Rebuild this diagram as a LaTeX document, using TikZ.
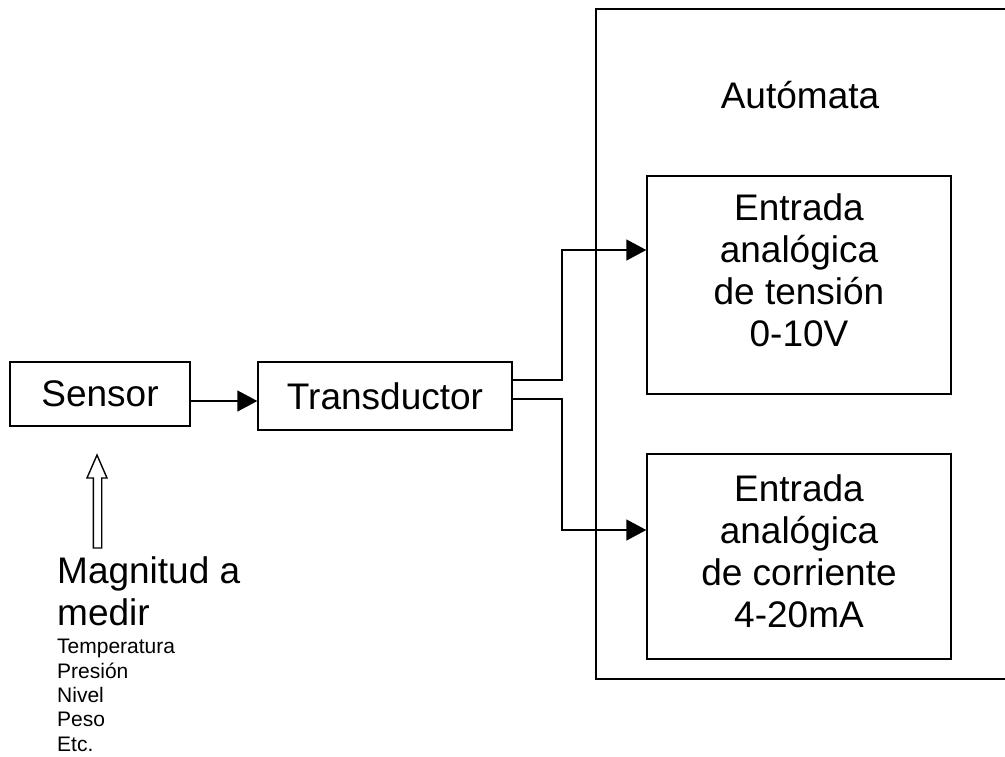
\documentclass[tikz,border=0pt]{standalone}
\usepackage{fontspec}
\setmainfont{Liberation Sans}
\usetikzlibrary{arrows.meta}
\begin{document}
\begin{tikzpicture}[x=1pt,y=-1pt,
  lw/.style={line width=1.4pt},
  box/.style={draw,lw,inner sep=0pt},
  big/.style={font=\fontsize{37}{42}\selectfont},
  small/.style={font=\fontsize{21}{24.3}\selectfont},
  arr/.style={lw,-{Triangle[length=20pt,width=21pt]}}]
\useasboundingbox (0,0) rectangle (1005,756);
% container (open to the right)
\coordinate (autTR) at (1008,9);
\coordinate (autTL) at (596,9);
\coordinate (autBL) at (596,679);
\coordinate (autBR) at (1008,679);
\draw[lw] (autTR) -- (autTL) -- (autBL) -- (autBR);
\node[big,anchor=base] (aut) at (800,108) {Autómata};
% boxes
\node[box,minimum width=180pt,minimum height=64pt,big] (sensor) at (100,394) {Sensor};
\node[box,minimum width=254pt,minimum height=68pt,big] (trans) at (385,396) {Transductor};
\node[box,minimum width=304pt,minimum height=218pt] (in1) at (799,285) {};
\node[box,minimum width=304pt,minimum height=205pt] (in2) at (799,556.5) {};
\node[big,align=center,anchor=base,inner sep=0pt] (t1) at (799,346) {Entrada\\analógica\\de tensión\\0-10V};
\node[big,align=center,anchor=base,inner sep=0pt] (t2) at (799,627) {Entrada\\analógica\\de corriente\\4-20mA};
% connectors
\draw[arr] (sensor.east |- 0,401) -- (trans.west |- 0,401);
\draw[arr] (trans.east |- 0,380) -- (562,380) |- (in1.west |- 0,250);
\draw[arr] (trans.east |- 0,399) -- (562,399) |- (in2.west |- 0,530);
% hollow arrow
\draw[lw,line join=miter] (93.3,548) -- (93.3,478) -- (87,478) -- (97,455) -- (107,478) -- (101.7,478) -- (101.7,548) -- cycle;
% texts
\node[big,align=left,anchor=base west,inner sep=0pt] (mag) at (57,625) {Magnitud a\\medir};
\node[small,align=left,anchor=base west,inner sep=0pt] (list) at (57,751) {Temperatura\\Presión\\Nivel\\Peso\\Etc.};
\end{tikzpicture}
\end{document}
